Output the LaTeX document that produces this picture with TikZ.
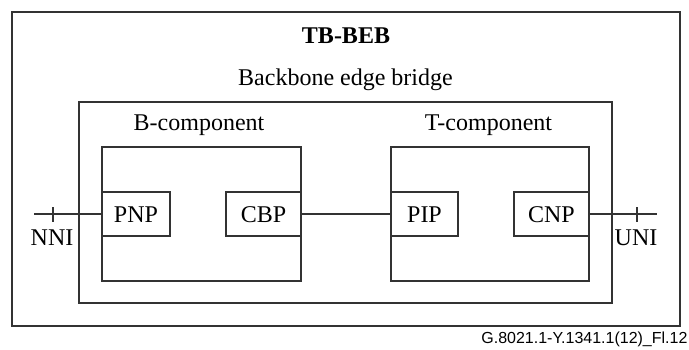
\documentclass[tikz,border=0pt]{standalone}
\usepackage{fontspec}
\setmainfont{Liberation Serif}
\newfontfamily\labelfont{Liberation Sans}
\begin{document}
\begin{tikzpicture}[x=1pt,y=-1pt,
  line width=1.1pt,
  box/.style={draw=black!80, rectangle, inner sep=0pt},
  port/.style={box, minimum height=44pt, font=\fontsize{24}{28}\selectfont},
  txt/.style={inner sep=0pt, anchor=base, font=\fontsize{24}{28}\selectfont},
  wire/.style={draw=black!80}
]
\useasboundingbox (0,0) rectangle (689,349);
% containers
\node[box, minimum width=668pt, minimum height=314pt] (outer) at (346,169) {};
\node[box, minimum width=533pt, minimum height=201pt] (inner) at (345.5,202.5) {};
\node[box, minimum width=199pt, minimum height=134pt] (bcomp) at (201.5,214) {};
\node[box, minimum width=198pt, minimum height=134pt] (tcomp) at (490,214) {};
% ports
\node[port, minimum width=68pt] (pnp) at (136,214) {};
\node[port, minimum width=75pt] (cbp) at (263.5,214) {};
\node[port, minimum width=67pt] (pip) at (424.5,214) {};
\node[port, minimum width=75pt] (cnp) at (551.5,214) {};
\node[txt] (pnpt) at (136,222) {PNP};
\node[txt] (cbpt) at (263.5,222) {CBP};
\node[txt] (pipt) at (424.5,222) {PIP};
\node[txt] (cnpt) at (551.5,222) {CNP};
% titles
\node[txt, font=\fontsize{24}{28}\selectfont\bfseries] (title) at (346,43) {TB-BEB};
\node[txt] (bebt) at (345.5,85) {Backbone edge bridge};
\node[txt] (bct) at (199,130) {B-component};
\node[txt] (tct) at (488.5,130) {T-component};
% interfaces
\coordinate (nniend) at (34,214);
\coordinate (uniend) at (657,214);
\draw[wire] (nniend) -- (pnp.west);
\draw[wire] (cbp.east) -- (pip.west);
\draw[wire] (cnp.east) -- (uniend);
\coordinate (nnitick) at (53,214);
\coordinate (unitick) at (637,214);
\draw[wire] ([yshift=-7.5pt]nnitick) -- ([yshift=7.5pt]nnitick);
\draw[wire] ([yshift=-7.5pt]unitick) -- ([yshift=7.5pt]unitick);
\node[txt] (nni) at (52,245) {NNI};
\node[txt] (uni) at (636,245) {UNI};
% figure id
\node[inner sep=0pt, anchor=base east, font=\labelfont\fontsize{16}{19}\selectfont] (figid) at (688,343) {G.8021.1-Y.1341.1(12)\_Fl.12};
\end{tikzpicture}
\end{document}
